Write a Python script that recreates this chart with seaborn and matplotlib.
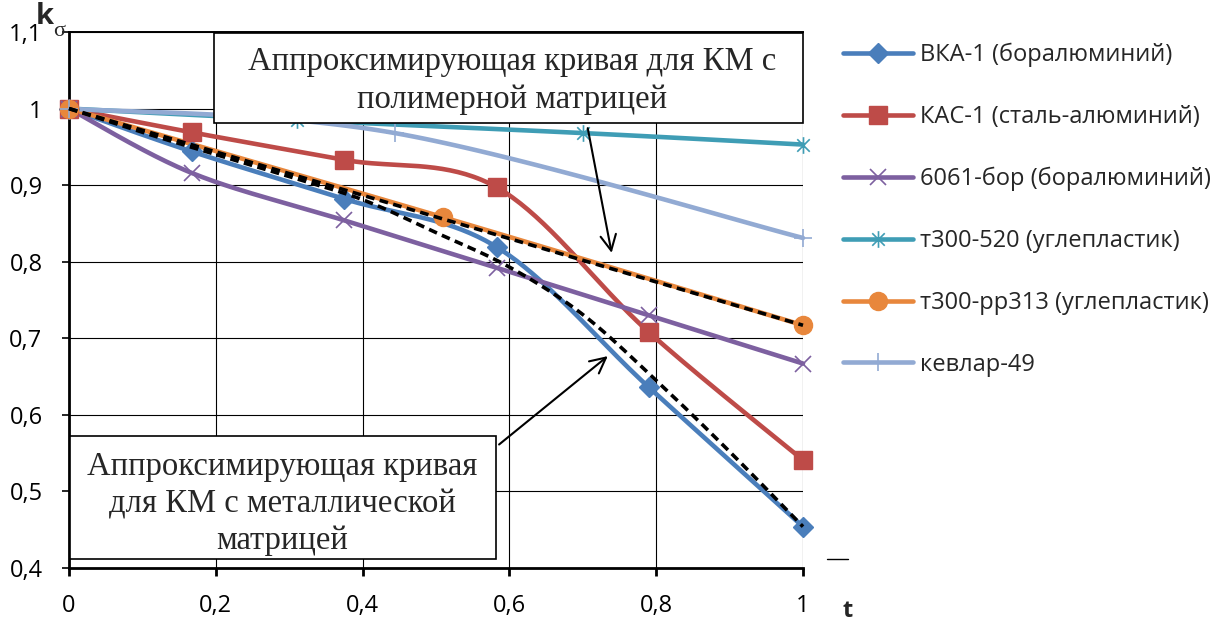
import numpy as np
import pandas as pd
import matplotlib
matplotlib.use("Agg")
import matplotlib.pyplot as plt
from matplotlib.lines import Line2D
from matplotlib.patches import Rectangle, FancyArrowPatch
from matplotlib.path import Path
import seaborn as sns

# ---------------- data ----------------
t_vka = [0.0, 0.167, 0.375, 0.583, 0.79, 1.0]
k_vka = [1.0, 0.944, 0.882, 0.819, 0.636, 0.454]

t_kas = [0.0, 0.167, 0.375, 0.583, 0.79, 1.0]
k_kas = [1.0, 0.969, 0.933, 0.897, 0.708, 0.541]

t_6061 = [0.0, 0.167, 0.375, 0.583, 0.79, 1.0]
k_6061 = [1.0, 0.916, 0.854, 0.792, 0.730, 0.667]

t_t300_520 = [0.0, 0.311, 0.70, 1.0]
k_t300_520 = [1.0, 0.985, 0.968, 0.953]

t_t300_pp313 = [0.0, 0.51, 1.0]
k_t300_pp313 = [1.0, 0.858, 0.717]

t_kevlar = [0.0, 0.444, 1.0]
k_kevlar = [1.0, 0.968, 0.831]

# approximating curves
t_fit_polymer = [0.0, 1.0]
k_fit_polymer = [1.0, 0.717]

t_fit_metal = [0.0, 0.1, 0.2, 0.3, 0.4, 0.5, 0.6, 0.7, 0.8, 0.9, 1.0]
k_fit_metal = [1.0, 0.969, 0.940, 0.911, 0.881, 0.838, 0.793, 0.731, 0.645, 0.552, 0.454]

series_labels = [
    "ВКА-1 (боралюминий)",
    "КАС-1 (сталь-алюминий)",
    "6061-бор (боралюминий)",
    "т300-520 (углепластик)",
    "т300-рр313 (углепластик)",
    "кевлар-49",
]
x_ticks = [0.0, 0.2, 0.4, 0.6, 0.8, 1.0]
y_ticks = [0.4, 0.5, 0.6, 0.7, 0.8, 0.9, 1.0, 1.1]

note_polymer = "Аппроксимирующая кривая для КМ с\nполимерной матрицей"
note_metal = "Аппроксимирующая кривая\nдля КМ с металлической\nматрицей"

# ---------------- style ----------------
sns.set_style("white")
plt.rcParams["font.family"] = ["Open Sans", "DejaVu Sans"]
plt.rcParams["axes.unicode_minus"] = False

W, H, DPI = 1215, 623, 100
fig = plt.figure(figsize=(W / DPI, H / DPI), dpi=DPI)
ax = fig.add_axes([69 / W, 1 - 568 / H, (803 - 69) / W, (568 - 32) / H])


def smooth(xs, ys, n=40):
    """Bezier smoothing through the points (Catmull-Rom control points)."""
    p = np.column_stack([xs, ys]).astype(float)
    if len(p) < 3:
        return p[:, 0], p[:, 1]
    ext = np.vstack([p[0], p, p[-1]])
    out = [p[:1]]
    s = np.linspace(0, 1, n)[1:, None]
    for i in range(len(p) - 1):
        p0, p1, p2, p3 = ext[i], ext[i + 1], ext[i + 2], ext[i + 3]
        c1 = p1 + (p2 - p0) / 6.0
        c2 = p2 - (p3 - p1) / 6.0
        seg = (1 - s) ** 3 * p1 + 3 * (1 - s) ** 2 * s * c1 + 3 * (1 - s) * s ** 2 * c2 + s ** 3 * p2
        out.append(seg)
    q = np.vstack(out)
    return q[:, 0], q[:, 1]


# asterisk marker: cross with a vertical bar
ast = Path([(0, -1), (0, 1), (-0.75, -0.75), (0.75, 0.75), (-0.75, 0.75), (0.75, -0.75)],
           [Path.MOVETO, Path.LINETO, Path.MOVETO, Path.LINETO, Path.MOVETO, Path.LINETO])

series = [
    (t_vka, k_vka, "#4A7EBB", dict(marker="D", ms=10, mfc="#4A7EBB", mec="#4A7EBB", mew=1)),
    (t_kas, k_kas, "#BE4B48", dict(marker="s", ms=13, mfc="#BE4B48", mec="#BE4B48", mew=1)),
    (t_6061, k_6061, "#7D60A0", dict(marker="x", ms=11, mec="#7D60A0", mew=1.2)),
    (t_t300_520, k_t300_520, "#3F9DB5", dict(marker=ast, ms=12, mfc="none", mec="#3F9DB5", mew=1.2)),
    (t_t300_pp313, k_t300_pp313, "#E8873C", dict(marker="o", ms=13, mfc="#E8873C", mec="#E8873C", mew=1)),
    (t_kevlar, k_kevlar, "#92AAD3", dict(marker="+", ms=13, mec="#92AAD3", mew=1.2)),
]

LW = 3.3
handles = []
for (tx, ky, col, mk), lab in zip(series, series_labels):
    sx, sy = smooth(tx, ky)
    df = pd.DataFrame({"t": sx, "k": sy})
    sns.lineplot(data=df, x="t", y="k", sort=False, estimator=None, color=col,
                 linewidth=LW, ax=ax, zorder=3, clip_on=False)
    ax.plot(tx, ky, linestyle="none", zorder=4, clip_on=False, **mk)
    handles.append(Line2D([], [], color=col, linewidth=LW, **mk))

# approximating curves (dashed black)
for tx, ky in [(t_fit_polymer, k_fit_polymer), (t_fit_metal, k_fit_metal)]:
    sx, sy = smooth(tx, ky)
    ax.plot(sx, sy, color="black", linewidth=2.6, dashes=(2.4, 1.5), zorder=5,
            clip_on=False, solid_capstyle="butt", dash_capstyle="butt")

# ---------------- axes ----------------
ax.set_xlim(0, 1)
ax.set_ylim(0.4, 1.1)
ax.set_xticks(x_ticks)
ax.set_yticks(y_ticks)
fmt = lambda v: f"{v:g}".replace(".", ",")
ax.set_xticklabels([fmt(v) for v in x_ticks])
ax.set_yticklabels([fmt(v) for v in y_ticks])
ax.set_xlabel("")
ax.set_ylabel("")
ax.grid(True, color="black", linewidth=0.8)
ax.set_axisbelow(True)
for side in ["left", "bottom"]:
    ax.spines[side].set_linewidth(2.0)
    ax.spines[side].set_color("black")
ax.spines["top"].set_linewidth(1.4)
ax.spines["top"].set_color("black")
ax.spines["right"].set_visible(False)
ax.tick_params(axis="x", direction="out", length=6, width=2.0, pad=13,
               labelsize=17, colors="black", bottom=True)
ax.tick_params(axis="y", direction="out", length=5, width=1.2, pad=14,
               labelsize=17, colors="black", left=True)

# axis titles
fig.text(45 / W, 1 - 17 / H, "k", fontsize=21, fontweight="bold", ha="center", va="center")
fig.text(59 / W, 1 - 31 / H, "σ", fontsize=16, family=["Liberation Serif", "DejaVu Sans"],
         ha="center", va="center")
fig.text(848 / W, 1 - 611 / H, "t", fontsize=17, fontweight="bold", ha="center", va="center")

# ---------------- annotation boxes ----------------
serif = ["Liberation Serif", "DejaVu Serif"]
box_top = Rectangle((0.1975, 0.981), 1.0 - 0.1975, 1.0985 - 0.981, transform=ax.transData,
                    facecolor="white", edgecolor="black", linewidth=1.2, zorder=7, clip_on=False)
ax.add_patch(box_top)
ax.text(0.6035, 1.036, note_polymer, family=serif, fontsize=23.5, ha="center", va="center",
        linespacing=1.32, zorder=8)

box_bot = Rectangle((0.0015, 0.412), 0.582 - 0.0015, 0.572 - 0.412, transform=ax.transData,
                    facecolor="white", edgecolor="black", linewidth=1.2, zorder=7, clip_on=False)
ax.add_patch(box_bot)
# text area of the lower box ends a little above its frame
text_area = Rectangle((0.0015, 0.4215), 0.582 - 0.0015, 0.572 - 0.4215, transform=ax.transData,
                      facecolor="none", edgecolor="none")
txt = ax.text(0.291, 0.4836, note_metal, family=serif, fontsize=23.5, ha="center", va="center",
              linespacing=1.27, zorder=8)
txt.set_clip_path(text_area)

arrow_kw = dict(arrowstyle="->,head_length=0.7,head_width=0.35", color="black",
                linewidth=1.5, mutation_scale=16, zorder=9, clip_on=False)
ax.add_patch(FancyArrowPatch((0.706, 0.978), (0.740, 0.808), **arrow_kw))
ax.add_patch(FancyArrowPatch((0.583, 0.559), (0.737, 0.679), **arrow_kw))

# ---------------- legend ----------------
leg = fig.legend(handles, series_labels, loc="upper left",
                 bbox_to_anchor=(843 / W, 1 - 43 / H), frameon=False, fontsize=17,
                 handlelength=2.95, handletextpad=0.3, labelspacing=1.6, borderpad=0,
                 borderaxespad=0)

fig.add_artist(Line2D([827 / W, 848 / W], [1 - 559 / H, 1 - 559 / H], color="black",
                      linewidth=1.0, transform=fig.transFigure))

fig.savefig("out.png", dpi=DPI, facecolor="white")
